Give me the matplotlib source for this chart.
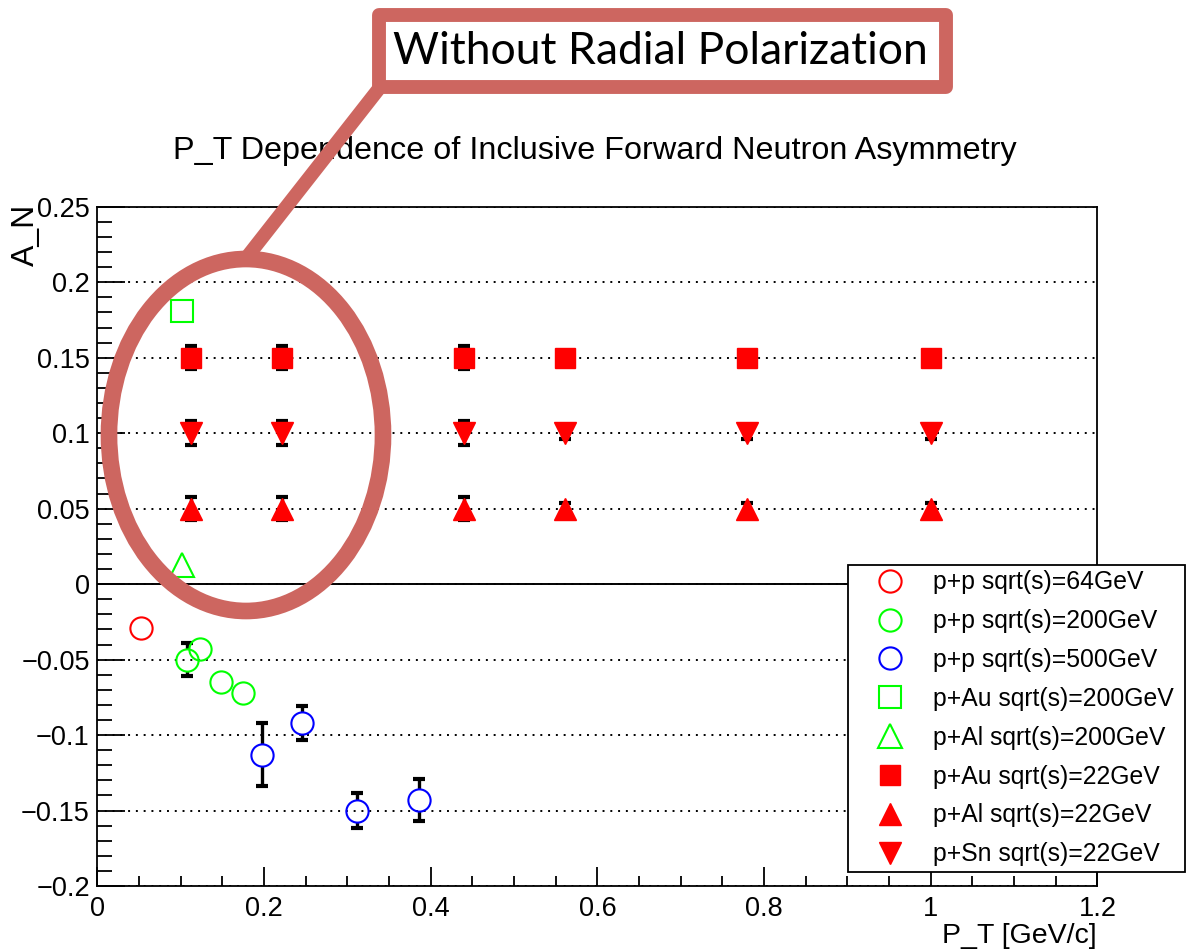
import matplotlib
matplotlib.use("Agg")
import matplotlib.pyplot as plt
from matplotlib.patches import Ellipse, Rectangle
from matplotlib.lines import Line2D
from matplotlib.ticker import FixedLocator, FixedFormatter, MultipleLocator

plt.rcParams['font.family'] = ['Liberation Sans', 'DejaVu Sans']

# ---- data ----
pp64_x = [0.052]
pp64_y = [-0.029]
pp64_e = [0.0]

pp200_x = [0.108, 0.123, 0.148, 0.175]
pp200_y = [-0.050, -0.043, -0.065, -0.072]
pp200_e = [0.011, 0.0, 0.0, 0.0]

pp500_x = [0.197, 0.246, 0.312, 0.386]
pp500_y = [-0.113, -0.092, -0.150, -0.143]
pp500_e = [0.021, 0.0115, 0.0115, 0.014]

pau200_x = [0.101]
pau200_y = [0.181]
pal200_x = [0.101]
pal200_y = [0.013]

pt22 = [0.112, 0.221, 0.440, 0.561, 0.780, 1.0]
pau22_y = [0.15, 0.15, 0.15, 0.15, 0.15, 0.15]
pal22_y = [0.05, 0.05, 0.05, 0.05, 0.05, 0.05]
psn22_y = [0.10, 0.10, 0.10, 0.10, 0.10, 0.10]
err22 = [0.0078, 0.0078, 0.0078, 0.004, 0.004, 0.004]

xticks = [0, 0.2, 0.4, 0.6, 0.8, 1.0, 1.2]
xticklabels = ['0', '0.2', '0.4', '0.6', '0.8', '1', '1.2']
yticks = [0.25, 0.2, 0.15, 0.1, 0.05, 0, -0.05, -0.1, -0.15, -0.2]
yticklabels = ['0.25', '0.2', '0.15', '0.1', '0.05', '0',
               '\u22120.05', '\u22120.1', '\u22120.15', '\u22120.2']

fig = plt.figure(figsize=(11.89, 9.52), dpi=100)
ax = fig.add_axes([0.0820, 0.0693, 0.8410, 0.7135])
ax.set_xlim(0, 1.2)
ax.set_ylim(-0.2, 0.25)

# grid + zero line
ax.yaxis.grid(True, which='major', color='black', linestyle=(0, (1, 3)), linewidth=1.4)
ax.axhline(0, color='black', lw=1.4, zorder=1)


def bars(xs, ys, es, r):
    # ROOT style error bars: gap where the marker sits, small caps
    for x, y, e in zip(xs, ys, es):
        if e <= r:
            continue
        ax.vlines([x, x], [y + r, y - e], [y + e, y - r], color='black', lw=2.4, zorder=2)
        ax.plot([x, x], [y + e, y - e], ls='none', marker='_', ms=8, mew=3,
                color='black', zorder=2)


bars(pp200_x, pp200_y, pp200_e, 0.0073)
bars(pp500_x, pp500_y, pp500_e, 0.0073)
bars(pt22, pau22_y, err22, 0.0)
bars(pt22, pal22_y, err22, 0.0)
bars(pt22, psn22_y, err22, 0.0)

ms_open = dict(ls='none', mfc='none', mew=1.5, zorder=3)
ax.plot(pp64_x, pp64_y, marker='o', ms=16, mec='#ff0000', label='p+p sqrt(s)=64GeV', **ms_open)
ax.plot(pp200_x, pp200_y, marker='o', ms=16, mec='#00ff00', label='p+p sqrt(s)=200GeV', **ms_open)
ax.plot(pp500_x, pp500_y, marker='o', ms=16, mec='#0000ff', label='p+p sqrt(s)=500GeV', **ms_open)
ax.plot(pau200_x, pau200_y, marker='s', ms=15.5, mec='#00ff00', label='p+Au sqrt(s)=200GeV', **ms_open)
ax.plot(pal200_x, pal200_y, marker='^', ms=17, mec='#00ff00', label='p+Al sqrt(s)=200GeV', **ms_open)
ax.plot(pt22, pau22_y, ls='none', marker='s', ms=15, color='#ff0000', mec='#ff0000',
        label='p+Au sqrt(s)=22GeV', zorder=3)
ax.plot(pt22, pal22_y, ls='none', marker='^', ms=16, color='#ff0000', mec='#ff0000',
        label='p+Al sqrt(s)=22GeV', zorder=3)
ax.plot(pt22, psn22_y, ls='none', marker='v', ms=16, color='#ff0000', mec='#ff0000',
        label='p+Sn sqrt(s)=22GeV', zorder=3)

# ticks, ROOT look
ax.xaxis.set_major_locator(FixedLocator(xticks))
ax.xaxis.set_major_formatter(FixedFormatter(xticklabels))
ax.xaxis.set_minor_locator(MultipleLocator(0.05))
ax.yaxis.set_major_locator(FixedLocator(yticks))
ax.yaxis.set_major_formatter(FixedFormatter(yticklabels))
ax.yaxis.set_minor_locator(MultipleLocator(0.01))
ax.tick_params(axis='both', which='both', direction='in', top=False, right=False,
               labelsize=19.5, color='black', width=1.3)
ax.tick_params(axis='y', which='major', length=20, pad=5.5)
ax.tick_params(axis='y', which='minor', length=11)
ax.tick_params(axis='x', which='major', length=14, pad=7)
ax.tick_params(axis='x', which='minor', length=7)
for s in ax.spines.values():
    s.set_linewidth(1.3)

fig.text(595 / 1189, 1 - 151 / 952, 'P_T Dependence of Inclusive Forward Neutron Asymmetry',
         ha='center', va='center', fontsize=23.3)
fig.text(26 / 1189, 1 - 204 / 952, 'A_N', rotation=90, ha='center', va='top', fontsize=23)
fig.text(1097 / 1189, 1 - 949 / 952, 'P_T [GeV/c]', ha='right', va='bottom', fontsize=20.5)

leg = ax.legend(loc='upper left', bbox_to_anchor=(848 / 1189, 1 - 565 / 952, 337 / 1189, 0.0),
                bbox_transform=fig.transFigure, mode='expand', borderaxespad=0,
                fontsize=17.8, frameon=True, fancybox=False, edgecolor='black',
                framealpha=1, numpoints=1, handlelength=2.95, handletextpad=0.25,
                borderpad=0.22, labelspacing=0.6)
leg.get_frame().set_linewidth(1.3)
leg.set_zorder(5)

# overlay: callout box, pointer and ellipse
salmon = '#cd6660'
fig.add_artist(Ellipse((246 / 1189, 1 - 435 / 952), 274 / 1189, 352 / 952,
                       transform=fig.transFigure, fill=False, ec=salmon, lw=12, zorder=10))
fig.add_artist(Line2D([247 / 1189, 381 / 1189], [1 - 257 / 952, 1 - 86 / 952],
                      transform=fig.transFigure, color=salmon, lw=10, zorder=10))
fig.add_artist(Rectangle((378.5 / 1189, 1 - 86.5 / 952), 567 / 1189, 72 / 952,
                         transform=fig.transFigure, fc='white', ec=salmon, lw=10,
                         joinstyle='round', zorder=11))
fig.text(660 / 1189, 1 - 52 / 952, 'Without Radial Polarization', ha='center', va='center',
         fontsize=32, family=['Lato', 'DejaVu Sans'], zorder=12)

fig.savefig('out.png', dpi=100)
